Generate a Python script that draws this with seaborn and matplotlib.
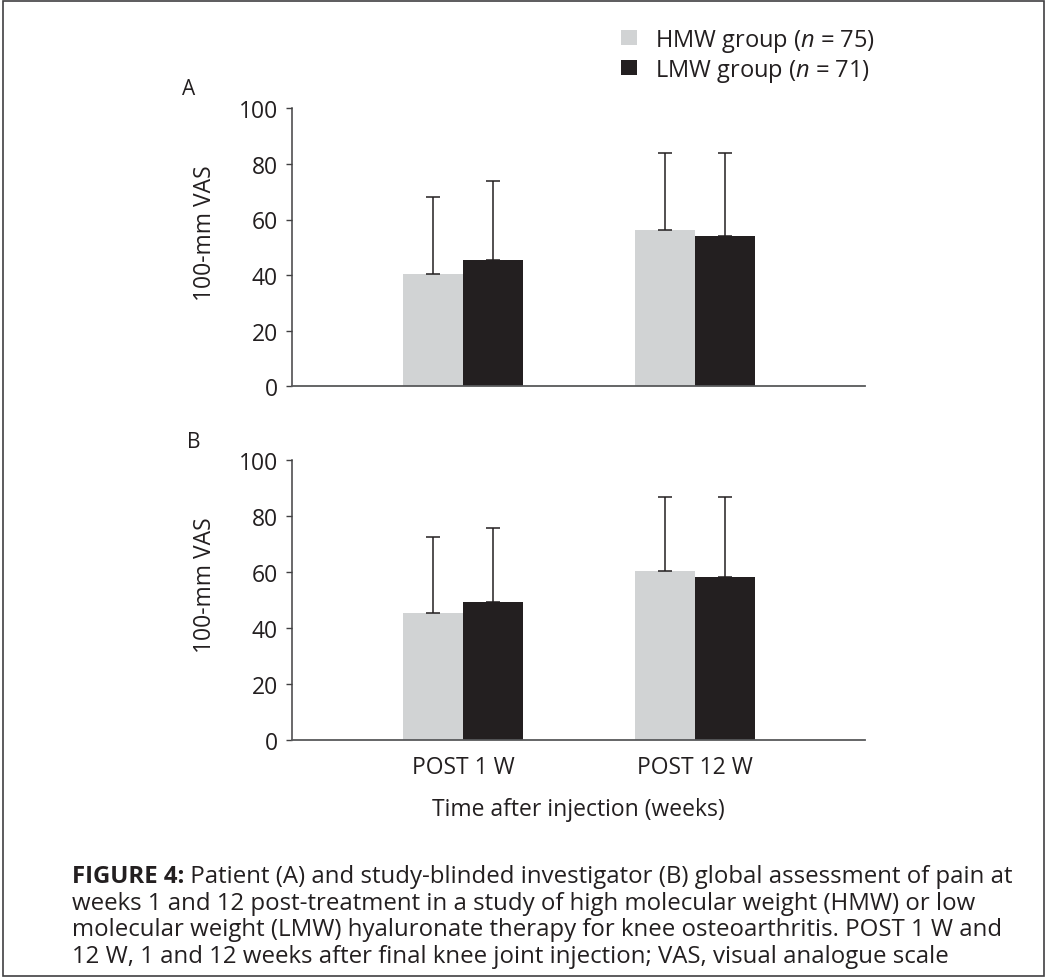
import numpy as np
import pandas as pd
import seaborn as sns
import matplotlib
matplotlib.use("Agg")
import matplotlib.pyplot as plt
from matplotlib.patches import Patch, Rectangle

# ---------------- data ----------------
categories = ["POST 1 W", "POST 12 W"]
groups = ["HMW group", "LMW group"]
group_n = [75, 71]
panel_labels = ["A", "B"]

# Panel A: patient global assessment (mean, upper SD)
a_hmw_mean = [40.4, 56.2]
a_hmw_sd = [27.6, 27.8]
a_lmw_mean = [45.4, 54.1]
a_lmw_sd = [28.3, 29.9]

# Panel B: investigator global assessment
b_hmw_mean = [45.2, 60.2]
b_hmw_sd = [27.2, 26.4]
b_lmw_mean = [49.2, 58.1]
b_lmw_sd = [26.5, 28.7]

yticks = [0, 20, 40, 60, 80, 100]
ylabel = "100-mm VAS"
xlabel = "Time after injection (weeks)"
caption_bold = "FIGURE 4:"
caption_lines = [
    " Patient (A) and study-blinded investigator (B) global assessment of pain at",
    "weeks 1 and 12 post-treatment in a study of high molecular weight (HMW) or low",
    "molecular weight (LMW) hyaluronate therapy for knee osteoarthritis. POST 1 W and",
    "12 W, 1 and 12 weeks after final knee joint injection; VAS, visual analogue scale",
]

# ---------------- style ----------------
sns.set_theme(style="white")
plt.rcParams["font.family"] = ["Open Sans", "DejaVu Sans"]
plt.rcParams["mathtext.fontset"] = "custom"
plt.rcParams["mathtext.it"] = "Open Sans:italic"
plt.rcParams["mathtext.rm"] = "Open Sans"

LIGHT = "#d1d3d4"
DARK = "#231f20"
SPINE = "#58595b"
FS = 16.5

W, H = 1049, 979
fig = plt.figure(figsize=(W / 100, H / 100), dpi=100)
fig.patch.set_facecolor("white")


def px_axes(left, right, top, bottom):
    return fig.add_axes([left / W, 1 - bottom / H, (right - left) / W, (bottom - top) / H])


def draw_panel(ax, hmw_mean, hmw_sd, lmw_mean, lmw_sd, show_x):
    df = pd.DataFrame({
        "time": categories * 2,
        "group": [groups[0]] * 2 + [groups[1]] * 2,
        "value": list(hmw_mean) + list(lmw_mean),
    })
    sns.barplot(data=df, x="time", y="value", hue="group", order=categories,
                hue_order=groups, palette=[LIGHT, DARK], width=0.518,
                errorbar=None, legend=False, saturation=1, ax=ax,
                linewidth=0, edgecolor="none")
    for cont, means, sds in zip(ax.containers, [hmw_mean, lmw_mean], [hmw_sd, lmw_sd]):
        xs = [b.get_x() + b.get_width() / 2 for b in cont]
        ax.errorbar(xs, means, yerr=[np.zeros(len(sds)), sds], fmt="none",
                    ecolor=DARK, elinewidth=1.1, capsize=4.7, capthick=1.1, zorder=3)
    ax.set_xlim(-0.739, 1.735)
    ax.set_ylim(0, 100)
    ax.set_yticks(yticks)
    ax.set_yticklabels([str(t) for t in yticks])
    sns.despine(ax=ax)
    ax.spines["left"].set_color("#414042")
    ax.spines["left"].set_linewidth(1.1)
    ax.spines["bottom"].set_color(SPINE)
    ax.spines["bottom"].set_linewidth(1.3)
    ax.tick_params(axis="y", length=4.3, width=1.0, color="#414042", pad=6,
                   labelsize=FS, labelcolor=DARK, left=True)
    ax.tick_params(axis="x", length=0, pad=11, labelsize=FS, labelcolor=DARK)
    ax.set_ylabel(ylabel, fontsize=FS, color=DARK)
    ax.yaxis.set_label_coords(-0.131, 0.556)
    if show_x:
        ax.set_xlabel(xlabel, fontsize=FS, color=DARK, labelpad=13)
    else:
        ax.set_xlabel("")
        ax.set_xticklabels([])
    ax.set_facecolor("white")


axA = px_axes(292, 865, 109.3, 387.3)
draw_panel(axA, a_hmw_mean, a_hmw_sd, a_lmw_mean, a_lmw_sd, show_x=False)
axB = px_axes(292, 865, 460.7, 740.7)
draw_panel(axB, b_hmw_mean, b_hmw_sd, b_lmw_mean, b_lmw_sd, show_x=True)

# panel letters
fig.text(182 / W, 1 - 95 / H, panel_labels[0], fontsize=15, color=DARK, va="baseline", ha="left")
fig.text(187 / W, 1 - 448 / H, panel_labels[1], fontsize=15, color=DARK, va="baseline", ha="left")

# legend
handles = [Patch(facecolor=LIGHT, edgecolor="none"), Patch(facecolor=DARK, edgecolor="none")]
labels = [f"{g} ($n$ = {n})" for g, n in zip(groups, group_n)]
fig.legend(handles, labels, loc="upper left", bbox_to_anchor=(621 / W, 1 - 28 / H),
           frameon=False, fontsize=17, handlelength=0.68, handleheight=0.6,
           handletextpad=0.75, labelspacing=0.12, borderpad=0, borderaxespad=0,
           labelcolor=DARK)

# caption
renderer = fig.canvas.get_renderer()
probe = fig.text(0, 0, caption_lines[1], fontsize=16)
wpx = probe.get_window_extent(renderer).width
probe.remove()
cfs = 16 * 903 / wpx

baselines = [883, 910, 936.5, 963]
x0 = 72
tb = fig.text(x0 / W, 1 - baselines[0] / H, caption_bold, fontsize=cfs, fontweight="bold",
              color=DARK, va="baseline", ha="left")
bx1 = tb.get_window_extent(renderer).x1
fig.text(bx1 / W, 1 - baselines[0] / H, caption_lines[0], fontsize=cfs, color=DARK,
         va="baseline", ha="left")
for line, yb in zip(caption_lines[1:], baselines[1:]):
    fig.text(x0 / W, 1 - yb / H, line, fontsize=cfs, color=DARK, va="baseline", ha="left")

# outer frame
fig.patches.append(Rectangle((3 / W, 1 - 977 / H), 1041 / W, 975 / H, transform=fig.transFigure,
                             fill=False, edgecolor="#414042", linewidth=1.2))

fig.savefig("out.png", dpi=100, facecolor="white")
